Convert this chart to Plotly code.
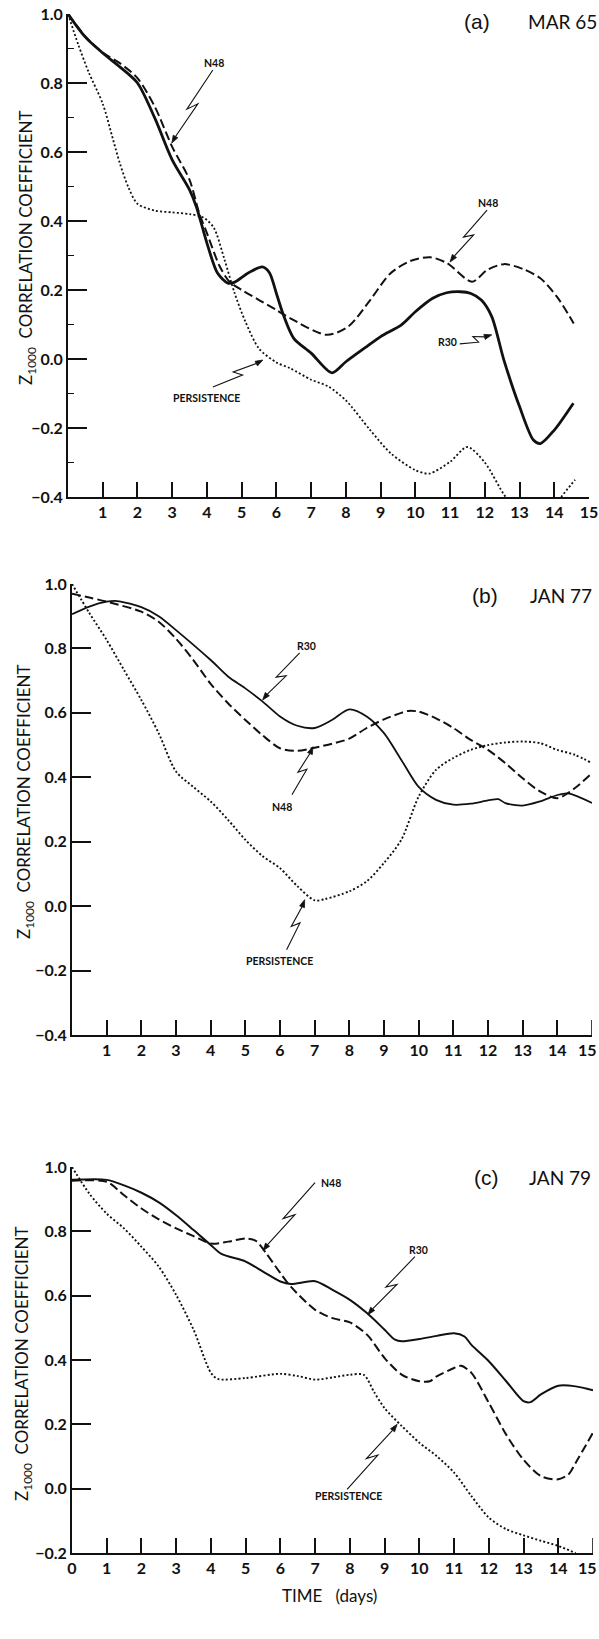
import math
import plotly.graph_objects as go

# ---------------- DATA ----------------
days_ticks = list(range(1, 16))
days_ticks_c = list(range(0, 16))
y_ticks = [-0.4, -0.2, 0.0, 0.2, 0.4, 0.6, 0.8, 1.0]

# Panel (a) MAR 65
a_r30_t = [0, 0.5, 1, 1.5, 2, 2.5, 3, 3.5, 3.7, 4, 4.3, 4.6, 4.8, 5.2, 5.6, 5.8, 6.0, 6.2, 6.5,
           7.0, 7.6, 8.0, 8.6, 9.0, 9.6, 10.0, 10.5, 10.9, 11.3, 11.6, 11.9, 12.2, 12.55, 13.0,
           13.4, 13.6, 14.0, 14.55]
a_r30_v = [1.0, 0.933, 0.887, 0.846, 0.80, 0.698, 0.577, 0.49, 0.44, 0.336, 0.25, 0.22, 0.223,
           0.25, 0.267, 0.25, 0.19, 0.128, 0.06, 0.017, -0.04, -0.008, 0.036, 0.065, 0.099,
           0.137, 0.176, 0.192, 0.195, 0.19, 0.171, 0.123, -0.003, -0.138, -0.235, -0.245,
           -0.206, -0.128]
a_n48_t = [0, 0.5, 1, 1.5, 2, 2.5, 3, 3.5, 3.78, 4, 4.37, 4.65, 5, 5.5, 6, 6.4, 7.45, 8.07,
           8.7, 9.28, 9.85, 10.43, 10.91, 11.63, 12.07, 12.55, 13.12, 13.6, 14.08, 14.56]
a_n48_v = [1.0, 0.935, 0.888, 0.857, 0.814, 0.731, 0.615, 0.519, 0.422, 0.365, 0.268, 0.224,
           0.2, 0.171, 0.142, 0.118, 0.07, 0.094, 0.171, 0.248, 0.284, 0.295, 0.278, 0.224,
           0.258, 0.275, 0.26, 0.234, 0.18, 0.103]
a_per_t = [0, 0.3, 0.6, 1.0, 1.3, 1.5, 1.75, 2.0, 2.5, 3.0, 3.5, 3.9, 4.2, 4.5, 4.8, 5.1, 5.5,
           6.0, 6.4, 7.0, 7.5, 8.0, 8.7, 9.3, 10.0, 10.4, 11.0, 11.5, 12.0, 12.6, 13.0, 13.5,
           14.0, 14.2, 14.6]
a_per_v = [1.0, 0.91, 0.83, 0.74, 0.635, 0.565, 0.495, 0.45, 0.43, 0.425, 0.42, 0.41, 0.38, 0.29,
           0.19, 0.11, 0.03, -0.01, -0.027, -0.06, -0.08, -0.12, -0.206, -0.274, -0.322, -0.332,
           -0.298, -0.255, -0.30, -0.40, -0.44, -0.45, -0.43, -0.40, -0.35]

# Panel (b) JAN 77
b_r30_t = [0, 0.5, 1, 1.3, 2, 2.5, 3, 4, 4.5, 5, 5.5, 6, 6.5, 7, 7.5, 8, 8.5, 9, 9.5, 10, 10.5,
           11, 11.5, 12, 12.3, 12.5, 13, 13.5, 14, 14.3, 14.6, 15]
b_r30_v = [0.906, 0.93, 0.945, 0.947, 0.928, 0.9, 0.857, 0.764, 0.713, 0.676, 0.635, 0.589,
           0.56, 0.553, 0.578, 0.611, 0.589, 0.537, 0.454, 0.37, 0.33, 0.315, 0.318, 0.328,
           0.332, 0.32, 0.312, 0.325, 0.345, 0.35, 0.34, 0.32]
b_n48_t = [0, 0.5, 1, 2, 2.5, 3, 3.5, 4, 4.5, 5, 5.5, 6, 6.5, 7, 7.5, 8, 8.5, 9, 9.5, 9.7, 10,
           10.5, 11, 11.5, 12, 12.5, 13, 13.5, 14, 14.5, 15]
b_n48_v = [0.97, 0.958, 0.945, 0.914, 0.883, 0.83, 0.764, 0.69, 0.63, 0.578, 0.53, 0.49, 0.482,
           0.492, 0.504, 0.52, 0.553, 0.58, 0.6, 0.606, 0.604, 0.583, 0.553, 0.516, 0.485,
           0.444, 0.397, 0.356, 0.335, 0.366, 0.413]
b_per_t = [0, 0.5, 1, 1.5, 2, 2.5, 3, 3.5, 4, 4.5, 5, 5.5, 6, 6.5, 7, 7.3, 8, 8.5, 9, 9.5, 10,
           10.5, 11, 11.5, 12, 12.5, 13, 13.5, 14, 14.5, 15]
b_per_v = [1.0, 0.91, 0.826, 0.733, 0.64, 0.537, 0.418, 0.37, 0.325, 0.268, 0.206, 0.155,
           0.118, 0.062, 0.018, 0.022, 0.046, 0.077, 0.134, 0.206, 0.34, 0.423, 0.46, 0.485,
           0.5, 0.508, 0.511, 0.506, 0.485, 0.47, 0.444]

# Panel (c) JAN 79
c_r30_t = [0, 1, 1.5, 2, 2.5, 3, 3.5, 4, 4.3, 5, 5.5, 6, 6.3, 7, 7.5, 8, 8.5, 9, 9.3, 9.5, 10,
           10.5, 11, 11.3, 11.5, 12, 12.5, 13, 13.2, 13.5, 14, 14.5, 15]
c_r30_v = [0.96, 0.96, 0.943, 0.92, 0.89, 0.85, 0.804, 0.757, 0.73, 0.706, 0.675, 0.644, 0.636,
           0.645, 0.618, 0.587, 0.545, 0.494, 0.463, 0.458, 0.465, 0.475, 0.483, 0.473, 0.447,
           0.396, 0.334, 0.272, 0.269, 0.293, 0.32, 0.318, 0.306]
c_n48_t = [0, 1, 1.5, 2, 2.5, 3, 3.5, 4, 4.5, 5, 5.3, 5.6, 6, 6.3, 7, 7.5, 8, 8.5, 9, 9.5, 10,
           10.3, 10.5, 11, 11.2, 11.5, 12, 12.5, 13, 13.5, 14, 14.3, 14.5, 15]
c_n48_v = [0.957, 0.954, 0.912, 0.871, 0.837, 0.809, 0.785, 0.762, 0.768, 0.778, 0.77, 0.73,
           0.67, 0.628, 0.556, 0.53, 0.517, 0.478, 0.406, 0.354, 0.334, 0.334, 0.349, 0.375,
           0.382, 0.36, 0.267, 0.168, 0.09, 0.039, 0.029, 0.045, 0.08, 0.174]
c_per_t = [0, 0.5, 1, 1.5, 2, 2.5, 3, 3.5, 4, 4.2, 5, 6, 6.5, 7, 7.5, 8, 8.4, 8.7, 9, 9.5, 10,
           10.5, 11, 11.5, 12, 12.5, 13, 13.5, 14, 14.5]
c_per_v = [1.0, 0.917, 0.855, 0.809, 0.752, 0.69, 0.602, 0.494, 0.36, 0.341, 0.344, 0.357,
           0.35, 0.339, 0.346, 0.354, 0.354, 0.30, 0.25, 0.194, 0.143, 0.101, 0.05, -0.023,
           -0.09, -0.126, -0.145, -0.162, -0.178, -0.2]

panel_titles = [("(a)", "MAR 65"), ("(b)", "JAN 77"), ("(c)", "JAN 79")]
y_title = "Z<sub>1000</sub>  CORRELATION COEFFICIENT"
x_title = "TIME   (days)"

# arrow labels: (panel, text, target_x, target_y, line start offset px, label offset px)
arrow_specs = [
    (1, "N48", 2.99, 0.626, (41, -73), (42, -80)),
    (1, "N48", 11.0, 0.281, (37, -52), (38, -59)),
    (1, "R30", 12.2, 0.07, (-32, 9), (-44, 7)),
    (1, "PERSISTENCE", 5.61, -0.003, (-50, 27), (-56, 38)),
    (2, "R30", 5.5, 0.64, (37, -47), (44, -54)),
    (2, "N48", 6.95, 0.495, (-21, 48), (-31, 60)),
    (2, "PERSISTENCE", 6.71, 0.02, (-18, 50), (-25, 61)),
    (3, "N48", 5.5, 0.74, (52, -68), (68, -68)),
    (3, "R30", 8.52, 0.541, (47, -58), (51, -65)),
    (3, "PERSISTENCE", 9.36, 0.2, (-50, 65), (-49, 72)),
]

# ---------------- FIGURE ----------------
W, H = 599, 1639
FONT = "Lato"
BLACK = "#111111"

fig = go.Figure()

panels = [
    dict(r30=(a_r30_t, a_r30_v), n48=(a_n48_t, a_n48_v), per=(a_per_t, a_per_v),
         px=(68, 589), py=(14, 497), yr=(-0.4, 1.0), w=(2.8, 2.0, 1.8), minor=True,
         xt=days_ticks, title_y=22, title_x=(462, 599), ytitle=(27, 248), last_lbl=None),
    dict(r30=(b_r30_t, b_r30_v), n48=(b_n48_t, b_n48_v), per=(b_per_t, b_per_v),
         px=(72, 592), py=(584, 1035), yr=(-0.4, 1.0), w=(1.8, 2.0, 1.9), minor=False,
         xt=days_ticks, title_y=595, title_x=(470, 594), ytitle=(25, 802), last_lbl=1049),
    dict(r30=(c_r30_t, c_r30_v), n48=(c_n48_t, c_n48_v), per=(c_per_t, c_per_v),
         px=(72, 593), py=(1167, 1553), yr=(-0.2, 1.0), w=(2.0, 2.0, 1.9), minor=False,
         xt=days_ticks_c, title_y=1177, title_x=(472, 593), ytitle=(23, 1364), last_lbl=1567),
]

TICKFONT = dict(family=FONT, size=16, color=BLACK, weight="bold")

for i, p in enumerate(panels, start=1):
    xa = "x" if i == 1 else f"x{i}"
    ya = "y" if i == 1 else f"y{i}"
    wr, wn, wp = p["w"]
    fig.add_trace(go.Scatter(x=p["per"][0], y=p["per"][1], mode="lines", xaxis=xa, yaxis=ya,
                             line=dict(color=BLACK, width=wp, dash="2px,2.2px", shape="spline",
                                       smoothing=0.8), showlegend=False, hoverinfo="skip"))
    fig.add_trace(go.Scatter(x=p["n48"][0], y=p["n48"][1], mode="lines", xaxis=xa, yaxis=ya,
                             line=dict(color=BLACK, width=wn, dash="9px,4px", shape="spline",
                                       smoothing=0.8), showlegend=False, hoverinfo="skip"))
    fig.add_trace(go.Scatter(x=p["r30"][0], y=p["r30"][1], mode="lines", xaxis=xa, yaxis=ya,
                             line=dict(color=BLACK, width=wr, shape="spline", smoothing=0.8),
                             showlegend=False, hoverinfo="skip"))

    xk = "xaxis" if i == 1 else f"xaxis{i}"
    yk = "yaxis" if i == 1 else f"yaxis{i}"
    x0, x1 = p["px"]
    ytop, ybot = p["py"]
    tvals = list(p["xt"])
    if p["last_lbl"] is not None:
        last = tvals.pop()
        # label of the last day kept inside the page edge, its tick drawn as a shape
        fig.add_annotation(xref="paper", yref="paper", x=598.5 / W, y=1 - p["last_lbl"] / H,
                           xanchor="right", yanchor="middle", showarrow=False,
                           text=str(last), font=TICKFONT)
        fig.add_shape(type="line", xref=xa, yref=ya, x0=last, x1=last, ysizemode="pixel",
                      yanchor=p["yr"][0], y0=0, y1=15, line=dict(color=BLACK, width=1.6))
    fig.layout[xk] = dict(
        domain=[x0 / W, x1 / W], range=[0, 15], anchor=ya,
        showline=True, linewidth=2, linecolor=BLACK, showgrid=False, zeroline=False,
        ticks="inside", ticklen=15, tickwidth=1.6, tickcolor=BLACK,
        tickmode="array", tickvals=tvals, ticktext=[str(v) for v in tvals],
        tickfont=TICKFONT, ticklabeloverflow="allow", fixedrange=True,
    )
    yd = dict(
        domain=[1 - ybot / H, 1 - ytop / H], range=list(p["yr"]), anchor=xa,
        showline=True, linewidth=2, linecolor=BLACK, showgrid=False, zeroline=False,
        ticks="inside", ticklen=19, tickwidth=1.6, tickcolor=BLACK,
        tickmode="array", tickvals=[v for v in y_ticks if v >= p["yr"][0] - 1e-9],
        ticktext=[f"{v:.1f}".replace("-", "\u2212") for v in y_ticks if v >= p["yr"][0] - 1e-9],
        tickfont=TICKFONT, ticklabeloverflow="allow", fixedrange=True,
    )
    if p["minor"]:
        yd["minor"] = dict(ticks="inside", ticklen=6, tickwidth=1.2, tickcolor=BLACK,
                           tickmode="array",
                           tickvals=[-0.3, -0.1, 0.1, 0.3, 0.5, 0.7, 0.9])
    fig.layout[yk] = yd

    # panel title
    t1, t2 = panel_titles[i - 1]
    fig.add_annotation(xref="paper", yref="paper", x=p["title_x"][0] / W, y=1 - p["title_y"] / H,
                       xanchor="left", yanchor="middle", showarrow=False, text=t1,
                       font=dict(family="Liberation Sans", size=21, color=BLACK))
    fig.add_annotation(xref="paper", yref="paper", x=p["title_x"][1] / W, y=1 - p["title_y"] / H,
                       xanchor="right", yanchor="middle", showarrow=False, text=t2,
                       font=dict(family=FONT, size=19, color=BLACK))
    # y title
    fig.add_annotation(xref="paper", yref="paper", x=p["ytitle"][0] / W, y=1 - p["ytitle"][1] / H,
                       xanchor="center", yanchor="middle", showarrow=False, text=y_title,
                       textangle=-90, font=dict(family=FONT, size=17, color=BLACK))

# x title
fig.add_annotation(xref="paper", yref="paper", x=329 / W, y=1 - 1595 / H, xanchor="center",
                   yanchor="middle", showarrow=False, text=x_title,
                   font=dict(family=FONT, size=17, color=BLACK))


def scr(pt):
    # screen offset (y down) -> shape pixel offset (y up)
    return f"{pt[0]:.2f},{-pt[1]:.2f}"


# lightning-bolt arrows with labels
for (pi, txt, tx, ty, (sx, sy), (lx, ly)) in arrow_specs:
    xa = "x" if pi == 1 else f"x{pi}"
    ya = "y" if pi == 1 else f"y{pi}"
    dx, dy = -sx, -sy
    ln = math.hypot(dx, dy)
    ux, uy = dx / ln, dy / ln
    nx, ny = -uy, ux
    wz = 3.5
    P = (sx + 0.56 * dx + nx * wz, sy + 0.56 * dy + ny * wz)
    Q = (sx + 0.44 * dx - nx * wz, sy + 0.44 * dy - ny * wz)
    hl, hw = 7.5, 2.6
    B = (-ux * hl, -uy * hl)
    path = f"M {scr((sx, sy))} L {scr(P)} L {scr(Q)} L {scr(B)}"
    fig.add_shape(type="path", xref=xa, yref=ya, xsizemode="pixel", ysizemode="pixel",
                  xanchor=tx, yanchor=ty, path=path, line=dict(color=BLACK, width=1.1))
    c1 = (B[0] + nx * hw, B[1] + ny * hw)
    c2 = (B[0] - nx * hw, B[1] - ny * hw)
    head = f"M 0,0 L {scr(c1)} L {scr(c2)} Z"
    fig.add_shape(type="path", xref=xa, yref=ya, xsizemode="pixel", ysizemode="pixel",
                  xanchor=tx, yanchor=ty, path=head, fillcolor=BLACK,
                  line=dict(color=BLACK, width=0.8))
    fig.add_annotation(xref=xa, yref=ya, x=tx, y=ty, xshift=lx, yshift=-ly, text=txt,
                       showarrow=False, xanchor="center", yanchor="middle",
                       font=dict(family=FONT, size=10.5, color=BLACK, weight="bold"))

fig.update_layout(width=W, height=H, margin=dict(l=0, r=0, t=0, b=0, autoexpand=False),
                  paper_bgcolor="white", plot_bgcolor="white", showlegend=False)

fig.write_html("out.html", config={"displayModeBar": False},
               post_script="document.body.style.margin='0';")
